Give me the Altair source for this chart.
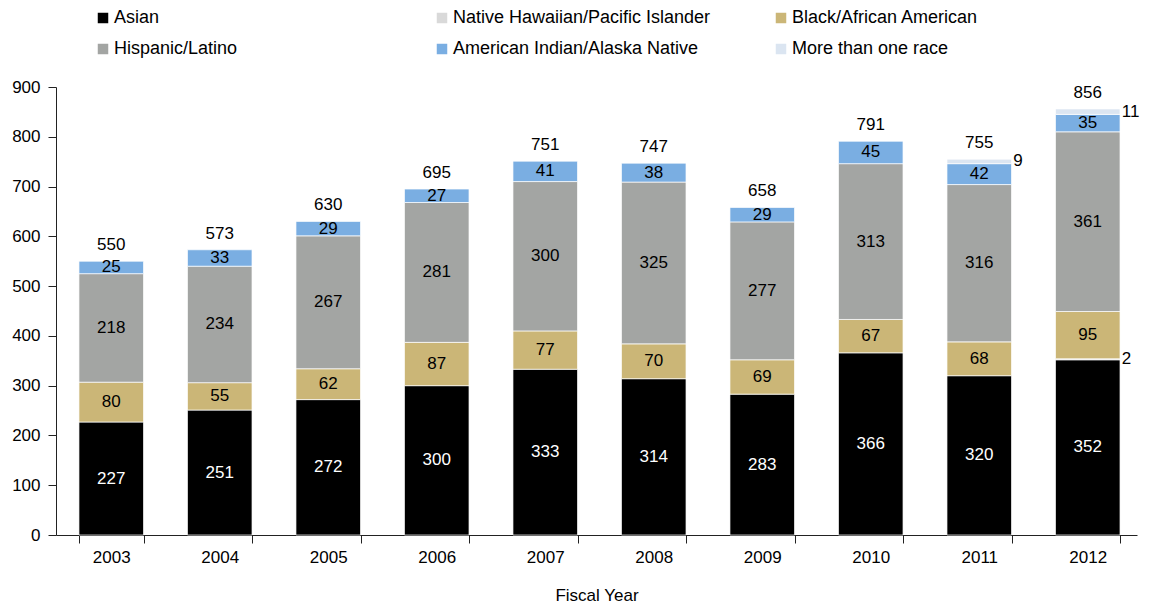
import altair as alt
import pandas as pd

years = ["2003", "2004", "2005", "2006", "2007", "2008", "2009", "2010", "2011", "2012"]
races = ["Asian", "Native Hawaiian/Pacific Islander", "Black/African American",
         "Hispanic/Latino", "American Indian/Alaska Native", "More than one race"]
colors = ["#000000", "#d9d9d9", "#cbb677", "#a3a5a3", "#7aaee2", "#dbe5f1"]

asian = [227, 251, 272, 300, 333, 314, 283, 366, 320, 352]
nhpi = [0, 0, 0, 0, 0, 0, 0, 0, 0, 2]
black = [80, 55, 62, 87, 77, 70, 69, 67, 68, 95]
hispanic = [218, 234, 267, 281, 300, 325, 277, 313, 316, 361]
aian = [25, 33, 29, 27, 41, 38, 29, 45, 42, 35]
multi = [0, 0, 0, 0, 0, 0, 0, 0, 9, 11]
totals = [550, 573, 630, 695, 751, 747, 658, 791, 755, 856]

series = [asian, nhpi, black, hispanic, aian, multi]
rows = []
for i, yr in enumerate(years):
    base = 0
    for k, (r, vals) in enumerate(zip(races, series)):
        v = vals[i]
        rows.append(dict(year=yr, race=r, order=k, value=v, y0=base, y1=base + v, mid=base + v / 2))
        base += v
df = pd.DataFrame(rows)
tot = pd.DataFrame(dict(year=years, total=totals))

FONT = "Liberation Sans"
FS = 17

xenc = alt.X("year:N", sort=years,
             scale=alt.Scale(paddingInner=0.405, paddingOuter=0.184, align=0.575),
             axis=alt.Axis(title="Fiscal Year", labelAngle=0, tickBand="extent", tickSize=8,
                           labelPadding=6, titlePadding=22, domainColor="#222", tickColor="#222",
                           labelFontSize=FS, titleFontSize=FS, titleFontWeight="normal",
                           labelFont=FONT, titleFont=FONT, labelColor="#000", titleColor="#000"))
yscale = alt.Scale(domain=[0, 900], nice=False)

bars = alt.Chart(df[df.value > 0]).mark_bar(stroke="white", strokeWidth=0.7).encode(
    x=xenc,
    y=alt.Y("y0:Q", scale=yscale,
            axis=alt.Axis(title=None, values=list(range(0, 901, 100)), grid=False, tickSize=8,
                          labelPadding=8, domainColor="#222", tickColor="#222",
                          labelFontSize=FS, labelFont=FONT, labelColor="#000")),
    y2="y1:Q",
    color=alt.Color("race:N", scale=alt.Scale(domain=races, range=colors),
                    legend=alt.Legend(title=None, orient="none", legendX=38, legendY=-78,
                                      direction="horizontal",
                                      columns=3, gridAlign="all", columnPadding=61, rowPadding=13,
                                      symbolType="square", symbolSize=110, symbolStrokeWidth=0,
                                      labelFontSize=18, labelFont=FONT, labelColor="#000",
                                      labelOffset=2, labelLimit=400)),
)

main4 = ["Asian", "Black/African American", "Hispanic/Latino", "American Indian/Alaska Native"]
inner = alt.Chart(df[df.race.isin(main4) & (df.value > 0)]).mark_text(
    fontSize=FS, font=FONT, baseline="middle").encode(
    x=alt.X("year:N", sort=years),
    y=alt.Y("mid:Q", scale=yscale),
    text="value:Q",
    color=alt.condition(alt.datum.race == "Asian", alt.value("white"), alt.value("black")),
)

outer = alt.Chart(df[~df.race.isin(main4) & (df.value > 0)]).mark_text(
    fontSize=FS, font=FONT, baseline="middle", align="left", dx=34, color="black").encode(
    x=alt.X("year:N", sort=years),
    y=alt.Y("mid:Q", scale=yscale),
    text="value:Q",
)

tlabels = alt.Chart(tot).mark_text(fontSize=FS, font=FONT, baseline="bottom", dy=-7, color="black").encode(
    x=alt.X("year:N", sort=years),
    y=alt.Y("total:Q", scale=yscale),
    text="total:Q",
)

chart = alt.layer(bars, inner, outer, tlabels).properties(
    width=1081, height=448,
    autosize="none",
    padding={"left": 48, "top": 79, "right": 4, "bottom": 68},
).configure_view(stroke=None)

chart.save("out.html", embed_options={"renderer": "svg", "actions": False})
